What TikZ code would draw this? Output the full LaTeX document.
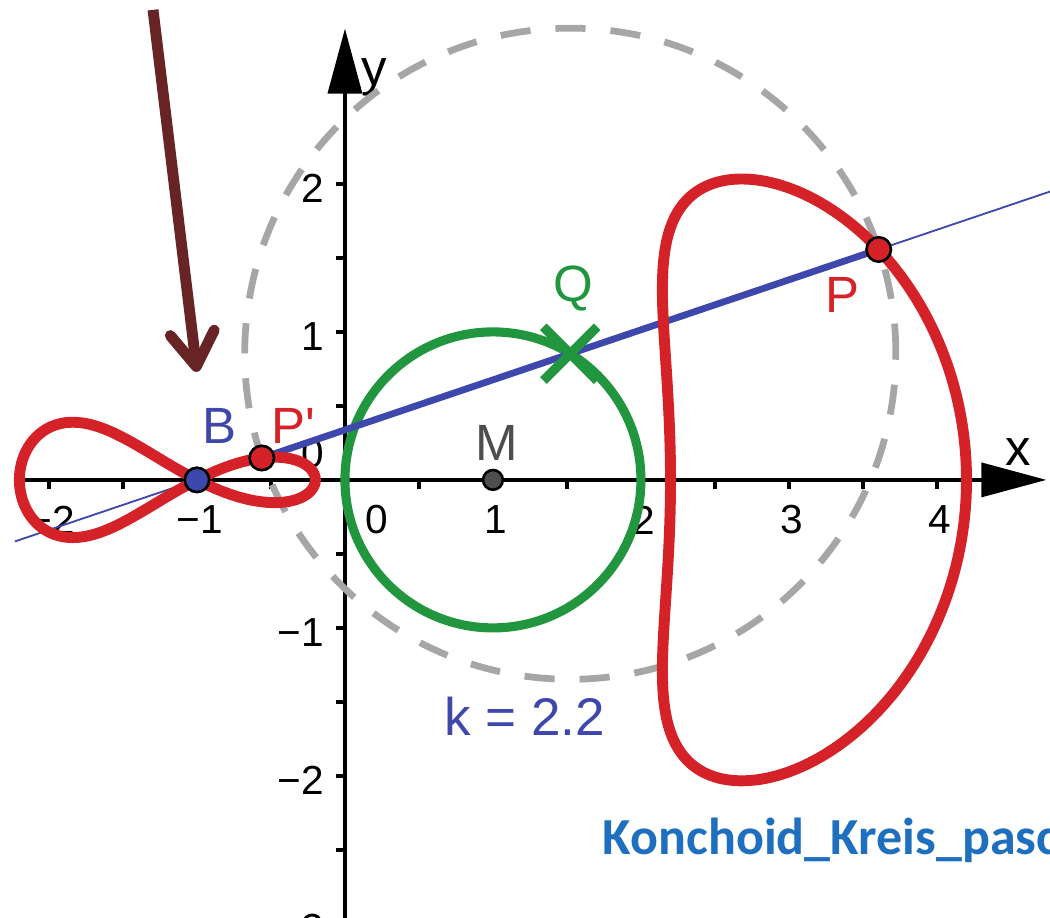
\documentclass[tikz,border=0pt]{standalone}
\usepackage{fontspec}
\setmainfont{Liberation Sans}
\newfontfamily\calfont{Carlito}
\usetikzlibrary{arrows.meta,positioning,shapes.misc}

\definecolor{curvered}{RGB}{212,34,40}
\definecolor{kreisgreen}{RGB}{34,150,62}
\definecolor{lineblue}{RGB}{62,72,172}
\definecolor{dashgray}{RGB}{166,166,166}
\definecolor{hintbrown}{RGB}{104,36,36}
\definecolor{fileblue}{RGB}{30,112,190}
\definecolor{mgray}{RGB}{78,78,78}

\begin{document}
\begin{tikzpicture}[
    x=1cm, y=1cm,
    axis/.style={
        line width=0.8pt,
        -{Triangle[length=12.5pt,width=6.5pt]}
    },
    axtick/.style={
        line width=0.8pt
    },
    ticklabel/.style={
        font=\fontsize{7.8}{9}\selectfont,
        inner sep=0pt
    },
    ptlabel/.style={
        font=\fontsize{9.8}{12}\selectfont,
        inner sep=0pt
    },
    dot/.style={
        circle, draw=black,
        line width=0.5pt,
        inner sep=0pt,
        minimum size=4.7pt
    },
    kreis/.style={
        kreisgreen,
        line width=1.75pt
    },
    kcircle/.style={
        dashgray,
        line width=1.3pt,
        dash pattern=on 5.8pt off 4.8pt
    },
    conchoid/.style={
        curvered,
        line width=2.1pt,
        line join=round
    },
    hint/.style={
        hintbrown,
        line width=2.1pt,
        -{Straight Barb[length=6.5pt,width=8.5pt,round]}
    }
]

\useasboundingbox (-2.331,-2.959) rectangle (4.764,3.243);


% axes
\coordinate (xstart) at (-2.16,0);
\coordinate (xend)   at (4.74,0);
\coordinate (ystart) at (0,-3.0);
\coordinate (yend)   at (0,3.05);

\draw[axis] (xstart) -- (xend);
\draw[axis] (ystart) -- (yend);

\foreach \v in {-2,-1.5,...,4}
    \draw[axtick] (\v,0) -- (\v,-0.06);
\foreach \v in {-2.5,-2,...,2}
    \draw[axtick] (0,\v) -- (-0.06,\v);

\foreach \v/\s [count=\i] in {-2/−2,-1/−1,1/1,2/2,3/3,4/4}
    \node[ticklabel] (xl\i) at (\v+0.02,-0.27) {\s};
\node[ticklabel] (xl0) at (0.216,-0.27) {0};

\foreach \v/\s [count=\i] in {-3/−3,-2/−2,-1/−1,1/1,2/2}
    \node[ticklabel,anchor=east] (yl\i) at (-0.135,\v-0.03) {\s};
\node[ticklabel,anchor=east] (yl0) at (-0.135,0.18) {0};

\node[ptlabel] (xlab) at (4.547,0.19) {x};
\node[ptlabel] (ylab) at (0.196,2.72) {y};


% points
\coordinate (B)  at (-1,0);
\coordinate (M)  at (1,0);
\coordinate (Q)  at (1.5225,0.8526);
\coordinate (P)  at (3.6067,1.5571);
\coordinate (Pd) at (-0.5617,0.1482);
\coordinate (lstart) at (-2.23,-0.4157);
\coordinate (lend)   at (4.80,1.9605);


\draw[kcircle] (Q) circle (2.2);
\draw[kreis] (M) circle (1);

\draw[lineblue, line width=0.35pt] (lstart) -- (lend);
\draw[lineblue, line width=1.3pt] (Pd) -- (P);

\draw[conchoid] plot[domain=0:360, samples=361, variable=\t]
    ({1+cos(\t)+2.2*(2+cos(\t))/sqrt(5+4*cos(\t))},
     {sin(\t)*(1+2.2/sqrt(5+4*cos(\t)))});
\draw[conchoid] plot[domain=0:360, samples=361, variable=\t]
    ({1+cos(\t)-2.2*(2+cos(\t))/sqrt(5+4*cos(\t))},
     {sin(\t)*(1-2.2/sqrt(5+4*cos(\t)))});

\node[cross out, draw=kreisgreen, line width=1.8pt,
      minimum size=0.3cm, inner sep=0pt] (Qx) at (Q) {};

\node[dot, fill=mgray, minimum size=3.8pt] (Mdot) at (M) {};
\node[dot, fill=lineblue] (Bdot) at (B) {};
\node[dot, fill=curvered] (Pddot) at (Pd) {};
\node[dot, fill=curvered] (Pdot) at (P) {};


% labels
\node[ptlabel, text=lineblue] (Blab) at (-0.851,0.365) {B};
\node[ptlabel, text=curvered] (Pdlab) at (-0.351,0.365) {P\textquotesingle};
\node[ptlabel, text=mgray] (Mlab) at (1.027,0.25) {M};
\node[ptlabel, text=kreisgreen] (Qlab) at (1.54,1.29) {Q};
\node[ptlabel, text=curvered] (Plab) at (3.36,1.25) {P};
\node[ptlabel, text=lineblue, font=\fontsize{10.2}{12}\selectfont] (klab) at (1.216,-1.60) {k = 2.2};


% hint arrow
\coordinate (hstart) at (-1.297,3.176);
\coordinate (hend)   at (-1.0,0.73);
\draw[hint] (hstart) -- (hend);

\node[font=\calfont\bfseries\fontsize{10}{12}\selectfont, text=fileblue,
      anchor=base west, inner sep=0pt] (fname) at (1.736,-2.534) {Konchoid\_Kreis\_pasc};

\end{tikzpicture}
\end{document}
